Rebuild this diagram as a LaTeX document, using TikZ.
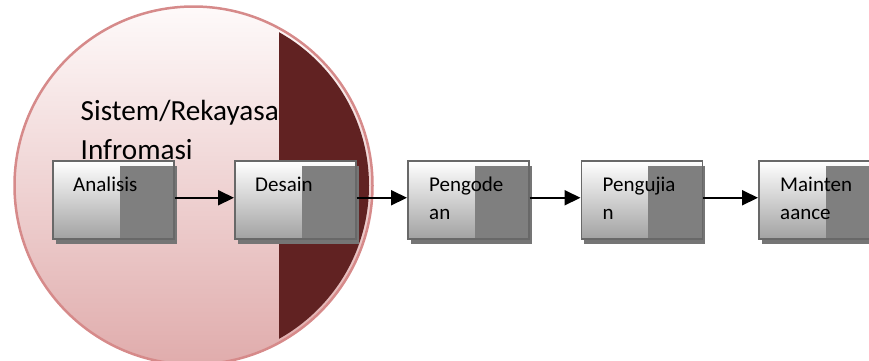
\documentclass[tikz,border=0pt]{standalone}
\usepackage{fontspec}
\setmainfont{Carlito}
\usetikzlibrary{arrows.meta,shadows}

\definecolor{ringedge}{HTML}{D68A8A}
\definecolor{ringtop}{HTML}{FEFAFA}
\definecolor{ringlow}{HTML}{E0ACAC}
\definecolor{wine}{HTML}{612222}
\definecolor{boxedge}{HTML}{686868}
\definecolor{boxlow}{HTML}{A2A2A2}
\definecolor{boxgray}{HTML}{7F7F7F}
\definecolor{boxshadow}{HTML}{757575}

\tikzset{
  stage/.style={draw=boxedge, line width=1.5pt, anchor=north west,
    minimum width=121pt, minimum height=78pt, inner sep=0pt,
    top color=white, bottom color=boxlow,
    drop shadow={shadow xshift=3pt, shadow yshift=-5pt, fill=boxshadow, opacity=1},
    path picture={\fill[boxgray]
      ([xshift=67pt,yshift=-5pt]path picture bounding box.north west)
      rectangle (path picture bounding box.south east);}},
  stagetext/.style={anchor=base west, inner sep=0pt,
    font=\fontsize{21}{28}\selectfont},
  flow/.style={line width=2pt, -{Triangle[length=16pt,width=15pt]}}
}

\newcommand{\twolines}[1]{\parbox[t]{120pt}{#1}}

\begin{document}
\begin{tikzpicture}[x=1pt,y=-1pt]
\useasboundingbox (0,0) rectangle (869,360);
\clip (0,0) rectangle (869,360);

% the system circle with its dark right segment
\fill[top color=ringtop, bottom color=ringlow] (193.5,185.5) circle (179);
\begin{scope}
  \clip (193.5,185.5) circle (175.5);
  \fill[wine] (279,0) rectangle (400,380);
\end{scope}
\draw[ringedge, line width=2.5pt] (193.5,185.5) circle (179);

\node[anchor=base west, inner sep=0pt, font=\fontsize{29.2}{39}\selectfont]
  (title) at (80.5,120) {\twolines{Sistem/Rekayasa\\Infromasi}};

% the five stages
\node[stage] (a) at (52,160) {};
\node[stage] (b) at (234,160) {};
\node[stage] (c) at (407,160) {};
\node[stage] (d) at (580.5,160) {};
\node[stage] (e) at (758,160) {};

\node[stagetext] (ta) at ([xshift=21pt,yshift=-31pt]a.north west) {Analisis};
\node[stagetext] (tb) at ([xshift=21pt,yshift=-31pt]b.north west) {Desain};
\node[stagetext] (tc) at ([xshift=22pt,yshift=-31pt]c.north west) {\twolines{Pengode\\an}};
\node[stagetext] (td) at ([xshift=22pt,yshift=-31pt]d.north west) {\twolines{Pengujia\\n}};
\node[stagetext] (te) at ([xshift=22pt,yshift=-31pt]e.north west) {\twolines{Mainten\\aance}};

% arrows between stages
\draw[flow] ([yshift=2pt]a.east) -- ([yshift=2pt]b.west);
\draw[flow] ([yshift=2pt]b.east) -- ([yshift=2pt]c.west);
\draw[flow] ([yshift=2pt]c.east) -- ([yshift=2pt]d.west);
\draw[flow] ([yshift=2pt]d.east) -- ([yshift=2pt]e.west);
\end{tikzpicture}
\end{document}
